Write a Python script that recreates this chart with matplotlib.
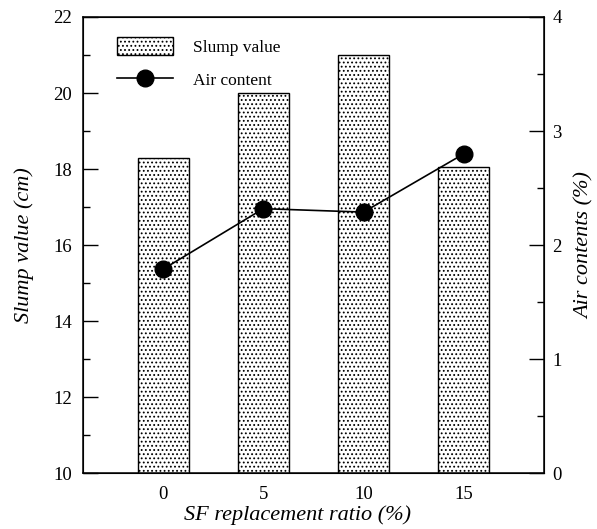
import matplotlib
matplotlib.use("Agg")
import matplotlib.pyplot as plt
import numpy as np
from matplotlib.ticker import MultipleLocator

# SF replacement ratio (%) and measured properties
sf_ratio = ["0", "5", "10", "15"]
slump_value = [18.3, 20.0, 21.0, 18.05]      # cm
air_content = [1.79, 2.32, 2.29, 2.80]       # %

plt.rcParams["font.family"] = ["Liberation Serif", "DejaVu Serif"]
plt.rcParams["hatch.linewidth"] = 0.8
plt.rcParams["hatch.color"] = "#444444"

fig = plt.figure(figsize=(5.97, 5.29), dpi=100)
ax = fig.add_axes([0.139, 0.105, 0.772, 0.863])

x = np.arange(len(sf_ratio))
bars = ax.bar(x, slump_value, width=0.51, bottom=0, color="white",
              edgecolor="black", linewidth=1.0, hatch="....",
              label="Slump value", zorder=2)

ax.set_xlim(-0.8, 3.8)
ax.set_ylim(10, 22)
ax.set_xticks(x)
ax.set_xticklabels(sf_ratio)
ax.yaxis.set_major_locator(MultipleLocator(2))
ax.yaxis.set_minor_locator(MultipleLocator(1))
ax.tick_params(axis="x", length=0, pad=9, labelsize=13.5)
ax.tick_params(axis="y", which="major", direction="in", length=11,
               width=1.0, pad=8, labelsize=13.5)
ax.tick_params(axis="y", which="minor", direction="in", length=5, width=1.0)
ax.tick_params(axis="y", right=False)
for s in ax.spines.values():
    s.set_linewidth(1.1)

ax.set_xlabel("SF replacement ratio (%)", fontsize=16, fontstyle="italic")
ax.xaxis.set_label_coords(0.465, -0.07)
ax.set_ylabel("Slump value (cm)", fontsize=16, fontstyle="italic")
ax.yaxis.set_label_coords(-0.107, 0.5)

ax2 = ax.twinx()
line, = ax2.plot(x, air_content, color="black", linewidth=1.2,
                 marker="o", markersize=12, markerfacecolor="black",
                 label="Air content", zorder=3)
ax2.set_ylim(0, 4)
ax2.yaxis.set_major_locator(MultipleLocator(1))
ax2.yaxis.set_minor_locator(MultipleLocator(0.5))
ax2.tick_params(axis="y", which="major", direction="in", length=11,
                width=1.0, pad=6, labelsize=13.5)
ax2.tick_params(axis="y", which="minor", direction="in", length=5, width=1.0)
ax2.set_ylabel("Air contents (%)", fontsize=16, fontstyle="italic",
               rotation=90)
ax2.yaxis.set_label_coords(1.068, 0.5)

leg = ax.legend([bars, line], ["Slump value", "Air content"],
                loc="upper left", bbox_to_anchor=(0.04, 0.99),
                frameon=False, fontsize=12.5, handlelength=3.2,
                handleheight=1.2, handletextpad=1.2, labelspacing=0.85)

fig.savefig("out.png", dpi=100)
